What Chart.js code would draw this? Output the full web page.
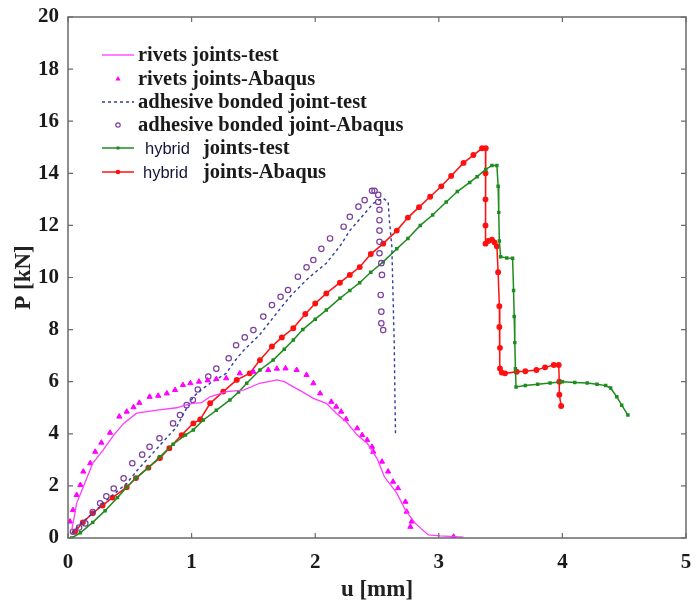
<!DOCTYPE html>
<html>
<head>
<meta charset="utf-8">
<script src="https://cdn.jsdelivr.net/npm/chart.js@4.4.1/dist/chart.umd.min.js"></script>
<style>
html,body{margin:0;padding:0;background:#fff;}
#wrap{width:696px;height:606px;position:relative;}
</style>
</head>
<body>
<div id="wrap"><canvas id="c" width="696" height="606"></canvas></div>
<script>
// ---- axis ticks ----
const xTicks = [0, 1, 2, 3, 4, 5];
const yTicks = [0, 2, 4, 6, 8, 10, 12, 14, 16, 18, 20];
const xTitle = 'u [mm]';
const yTitle = 'P [kN]';

// ---- series labels ----
const seriesNames = [
  'rivets joints-test',
  'rivets joints-Abaqus',
  'adhesive bonded joint-test',
  'adhesive bonded joint-Abaqus',
  'hybrid joints-test',
  'hybrid joints-Abaqus'
];

// ---- rivets joints-test ----
const rivetsTestU = [0.03,0.05,0.07,0.124,0.2,0.285,0.37,0.45,0.555,0.72,0.88,0.95,1.01,1.08,1.15,1.28,1.42,1.55,1.69,1.75,1.82,1.9,1.985,2.09,2.17,2.25,2.34,2.42,2.5,2.56,2.66,2.73,2.81,2.915,3.01,3.2];
const rivetsTestP = [0.3,0.8,1.33,1.97,2.87,3.38,3.95,4.4,4.79,4.91,5.0,5.1,5.17,5.2,5.42,5.62,5.68,5.94,6.07,6.0,5.81,5.6,5.36,5.17,4.79,4.47,3.95,3.64,3.06,2.35,1.72,1.07,0.56,0.12,0.08,0.03];

// ---- rivets joints-Abaqus ----
const rivetsAbqU = [0.016,0.04,0.07,0.1,0.124,0.18,0.22,0.27,0.34,0.415,0.475,0.53,0.577,0.66,0.73,0.8,0.866,0.93,0.99,1.06,1.13,1.2,1.28,1.39,1.5,1.62,1.69,1.76,1.85,1.93,1.985,2.04,2.13,2.17,2.21,2.25,2.34,2.38,2.42,2.46,2.47,2.54,2.59,2.63,2.67,2.73,2.74,2.78,2.77,3.12];
const rivetsAbqP = [0.63,1.07,1.65,2.03,2.55,2.87,3.31,3.66,4.04,4.66,4.85,5.02,5.19,5.42,5.46,5.55,5.68,5.87,5.94,6.0,6.05,6.1,6.13,6.32,6.38,6.45,6.5,6.51,6.45,6.26,5.94,5.55,5.23,5.04,4.85,4.56,4.21,3.95,3.76,3.5,3.31,2.93,2.55,2.16,1.91,1.39,1.01,0.63,0.43,0.05];

// ---- adhesive bonded joint-test ----
const adhTestU = [0.03,0.1,0.2,0.3,0.4,0.475,0.56,0.66,0.77,0.88,0.95,1.014,1.08,1.15,1.28,1.35,1.42,1.55,1.65,1.75,1.82,1.95,2.09,2.2,2.28,2.39,2.47,2.55,2.59,2.6,2.62,2.63,2.64,2.645,2.65];
const adhTestP = [0.18,0.55,0.95,1.4,1.8,2.1,2.6,3.12,3.7,4.27,4.9,5.42,5.7,5.94,6.32,6.8,7.2,7.8,8.4,9.0,9.39,10.0,10.55,11.2,11.8,12.4,12.85,13.04,12.9,12.2,11.2,9.26,7.34,5.42,3.95];

// ---- adhesive bonded joint-Abaqus ----
const adhAbqU = [0.04,0.09,0.14,0.2,0.26,0.31,0.37,0.45,0.52,0.6,0.66,0.74,0.85,0.906,0.96,1.01,1.05,1.135,1.2,1.3,1.36,1.43,1.5,1.58,1.65,1.72,1.78,1.86,1.93,1.985,2.05,2.12,2.23,2.28,2.35,2.4,2.46,2.48,2.51,2.51,2.52,2.52,2.52,2.52,2.52,2.535,2.54,2.53,2.535,2.535,2.55];
const adhAbqP = [0.24,0.4,0.56,1.0,1.33,1.6,1.9,2.29,2.87,3.2,3.5,3.83,4.4,4.72,5.1,5.3,5.7,6.2,6.5,6.9,7.4,7.7,7.98,8.5,8.94,9.26,9.52,10.03,10.39,10.67,11.1,11.5,11.95,12.33,12.72,12.97,13.33,13.33,13.17,12.9,12.6,12.2,11.8,11.37,10.93,10.55,10.1,9.33,8.69,8.24,7.98];

// ---- hybrid joints-test ----
const hybTestU = [0.03,0.1,0.2,0.3,0.4,0.475,0.55,0.65,0.744,0.85,0.95,1.014,1.095,1.2,1.31,1.38,1.446,1.553,1.66,1.75,1.823,1.9,2.0,2.09,2.2,2.28,2.36,2.45,2.55,2.66,2.75,2.85,2.95,3.06,3.15,3.25,3.31,3.38,3.43,3.47,3.48,3.485,3.49,3.5,3.55,3.597,3.605,3.61,3.615,3.62,3.625,3.7,3.8,3.9,4.0,4.1,4.2,4.28,4.35,4.39,4.44,4.48,4.53];
const hybTestP = [0.0,0.2,0.6,1.05,1.55,1.95,2.3,2.7,3.12,3.6,3.95,4.15,4.53,4.9,5.3,5.6,5.94,6.45,6.83,7.25,7.6,8.0,8.4,8.75,9.2,9.5,9.8,10.2,10.6,11.1,11.5,12.0,12.4,12.9,13.3,13.65,13.87,14.15,14.3,14.3,13.5,12.5,11.4,10.8,10.75,10.74,9.5,8.5,7.5,6.5,5.8,5.85,5.9,5.95,6.0,5.97,5.95,5.9,5.85,5.76,5.42,5.1,4.72];

// ---- hybrid joints-Abaqus ----
const hybAbqU = [0.057,0.12,0.2,0.28,0.36,0.475,0.55,0.65,0.744,0.82,0.92,1.014,1.07,1.15,1.256,1.365,1.47,1.553,1.65,1.73,1.823,1.92,2.0,2.09,2.2,2.28,2.36,2.45,2.55,2.66,2.75,2.84,2.93,3.02,3.1,3.2,3.28,3.35,3.38,3.378,3.378,3.378,3.378,3.4,3.43,3.45,3.47,3.48,3.49,3.49,3.495,3.495,3.51,3.536,3.63,3.7,3.79,3.86,3.93,3.97,3.975,3.975,3.99];
const hybAbqP = [0.24,0.6,0.95,1.25,1.55,1.95,2.3,2.7,3.07,3.45,3.95,4.4,4.55,5.17,5.62,6.07,6.32,6.83,7.35,7.7,8.05,8.6,9.0,9.39,9.8,10.1,10.4,10.9,11.3,11.8,12.3,12.7,13.1,13.5,13.9,14.4,14.7,14.96,14.96,14.0,13.0,12.0,11.3,11.4,11.45,11.35,11.2,10.2,8.9,8.1,7.3,6.51,6.35,6.32,6.38,6.4,6.45,6.55,6.64,6.64,6.0,5.5,5.07];

// ---- styles ----
const C_MAG = '#ff3cff';
const C_MAGT = '#ff00ff';
const C_BLUE = '#2f3f9f';
const C_PURP = '#7b3f9e';
const C_GREEN = '#1e8c1e';
const C_RED = '#ff1010';

function pts(u, p) { return u.map((v, i) => ({x: v, y: p[i]})); }

const datasets = [
  {label: seriesNames[0], data: pts(rivetsTestU, rivetsTestP), showLine: true, borderColor: C_MAG, borderWidth: 1.3, pointRadius: 0, tension: 0},
  {label: seriesNames[1], data: pts(rivetsAbqU, rivetsAbqP), showLine: false, pointStyle: 'triangle', pointRadius: 3, backgroundColor: C_MAGT, borderColor: C_MAGT, borderWidth: 1},
  {label: seriesNames[2], data: pts(adhTestU, adhTestP), showLine: true, borderColor: C_BLUE, borderWidth: 1.4, borderDash: [3, 3], pointRadius: 0, tension: 0},
  {label: seriesNames[3], data: pts(adhAbqU, adhAbqP), showLine: false, pointStyle: 'circle', pointRadius: 2.7, backgroundColor: 'rgba(0,0,0,0)', borderColor: C_PURP, borderWidth: 1.2},
  {label: seriesNames[4], data: pts(hybTestU, hybTestP), showLine: true, borderColor: C_GREEN, borderWidth: 1.5, pointStyle: 'rect', pointRadius: 1.4, backgroundColor: C_GREEN, pointBorderColor: C_GREEN, tension: 0},
  {label: seriesNames[5], data: pts(hybAbqU, hybAbqP), showLine: true, borderColor: C_RED, borderWidth: 1.5, pointStyle: 'circle', pointRadius: 2.2, backgroundColor: C_RED, pointBorderColor: C_RED, tension: 0}
];

const SERIF = '"Liberation Serif", "Times New Roman", serif';
const SANS = '"Liberation Sans", Arial, sans-serif';

const framePlugin = {
  id: 'frame',
  afterDraw(chart) {
    const ctx = chart.ctx, a = chart.chartArea;
    const xs = chart.scales.x, ys = chart.scales.y;
    ctx.save();
    ctx.strokeStyle = '#6a6a6a';
    ctx.lineWidth = 1.5;
    ctx.strokeRect(a.left, a.top, a.right - a.left, a.bottom - a.top);
    ctx.lineWidth = 1.2;
    const L = 5;
    ctx.beginPath();
    xTicks.forEach(v => {
      const px = xs.getPixelForValue(v);
      ctx.moveTo(px, a.bottom); ctx.lineTo(px, a.bottom - L);
      ctx.moveTo(px, a.top); ctx.lineTo(px, a.top + L);
    });
    yTicks.forEach(v => {
      const py = ys.getPixelForValue(v);
      ctx.moveTo(a.left, py); ctx.lineTo(a.left + L, py);
      ctx.moveTo(a.right, py); ctx.lineTo(a.right - L, py);
    });
    ctx.stroke();

    // axis titles
    ctx.fillStyle = '#222';
    ctx.font = 'bold 23px ' + SERIF;
    ctx.textAlign = 'center';
    ctx.textBaseline = 'middle';
    ctx.fillText(xTitle, (a.left + a.right) / 2, 590);
    ctx.save();
    ctx.translate(24, (a.top + a.bottom) / 2);
    ctx.rotate(-Math.PI / 2);
    ctx.fillText(yTitle, 0, 0);
    ctx.restore();

    // legend
    const rows = [55, 79, 102, 125, 148, 172];
    const x0 = 102, x1 = 134, xm = 118, xt = 138;
    ctx.textAlign = 'left';
    ctx.textBaseline = 'middle';
    rows.forEach((y, i) => {
      const ds = datasets[i];
      ctx.save();
      if (ds.showLine) {
        ctx.strokeStyle = ds.borderColor;
        ctx.lineWidth = ds.borderWidth;
        if (ds.borderDash) ctx.setLineDash(ds.borderDash);
        ctx.beginPath(); ctx.moveTo(x0, y); ctx.lineTo(x1, y); ctx.stroke();
      }
      ctx.restore();
      if (i === 1) {
        ctx.fillStyle = C_MAGT;
        ctx.beginPath(); ctx.moveTo(xm, y - 3); ctx.lineTo(xm + 2.6, y + 1.5); ctx.lineTo(xm - 2.6, y + 1.5); ctx.closePath(); ctx.fill();
      } else if (i === 3) {
        ctx.strokeStyle = C_PURP; ctx.lineWidth = 1.2;
        ctx.beginPath(); ctx.arc(xm, y, 2.2, 0, Math.PI * 2); ctx.stroke();
      } else if (i === 4) {
        ctx.fillStyle = C_GREEN; ctx.fillRect(xm - 1.5, y - 1.5, 3, 3);
      } else if (i === 5) {
        ctx.fillStyle = C_RED; ctx.beginPath(); ctx.arc(xm, y, 2.3, 0, Math.PI * 2); ctx.fill();
      }
      if (i < 4) {
        ctx.fillStyle = '#1a1a1a';
        ctx.font = 'bold 20.5px ' + SERIF;
        ctx.fillText(seriesNames[i], xt, y + 1);
      } else {
        const parts = seriesNames[i].split(' ');
        ctx.fillStyle = '#14143a';
        ctx.font = '16.5px ' + SANS;
        ctx.fillText(parts[0], i === 4 ? 145 : 143, y + 1);
        ctx.fillStyle = '#1a1a1a';
        ctx.font = 'bold 20.5px ' + SERIF;
        ctx.fillText(parts.slice(1).join(' '), 203, y + 1);
      }
    });
    ctx.restore();
  }
};

new Chart(document.getElementById('c'), {
  type: 'scatter',
  data: {datasets: datasets},
  options: {
    responsive: false,
    animation: false,
    devicePixelRatio: 1,
    layout: {padding: {top: 17, right: 10, left: 0, bottom: 0}},
    plugins: {legend: {display: false}, tooltip: {enabled: false}},
    scales: {
      x: {
        type: 'linear', min: 0, max: 5,
        afterFit(s) { s.height = 68; s.paddingLeft = 0; s.paddingRight = 0; },
        afterBuildTicks(s) { s.ticks = xTicks.map(v => ({value: v})); },
        grid: {display: false, drawTicks: false},
        border: {display: false},
        ticks: {color: '#1a1a1a', font: {family: SERIF, size: 21, weight: 'bold'}, padding: 12, maxRotation: 0}
      },
      y: {
        type: 'linear', min: 0, max: 20,
        afterFit(s) { s.width = 68; s.paddingTop = 0; s.paddingBottom = 0; },
        afterBuildTicks(s) { s.ticks = yTicks.map(v => ({value: v})); },
        grid: {display: false, drawTicks: false},
        border: {display: false},
        ticks: {color: '#1a1a1a', font: {family: SERIF, size: 21, weight: 'bold'}, padding: 9}
      }
    }
  },
  plugins: [framePlugin]
});
</script>
</body>
</html>
